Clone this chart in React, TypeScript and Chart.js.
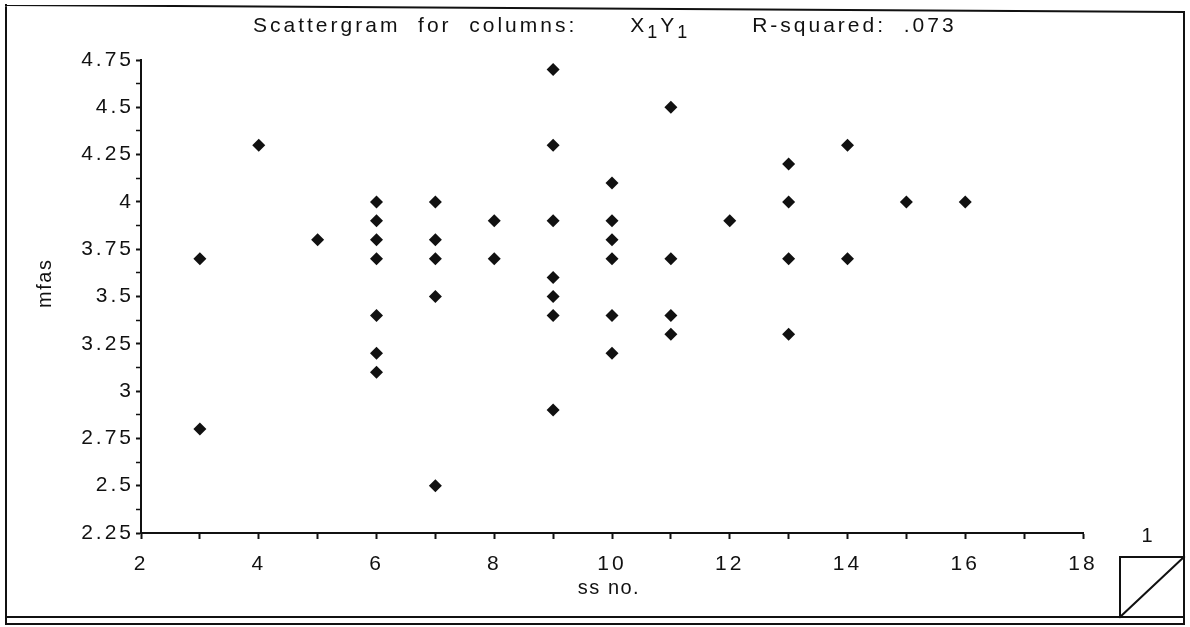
import React, { useEffect, useRef } from 'react';
import { Chart, registerables } from 'chart.js';

Chart.register(...registerables);

// ---- data ----
const ssNo = [
  3, 3, 4, 5,
  6, 6, 6, 6, 6, 6, 6,
  7, 7, 7, 7, 7,
  8, 8,
  9, 9, 9, 9, 9, 9, 9,
  10, 10, 10, 10, 10, 10,
  11, 11, 11, 11,
  12,
  13, 13, 13, 13,
  14, 14,
  15, 16,
];
const mfas = [
  3.7, 2.8, 4.3, 3.8,
  4.0, 3.9, 3.8, 3.7, 3.4, 3.2, 3.1,
  4.0, 3.8, 3.7, 3.5, 2.5,
  3.9, 3.7,
  4.7, 4.3, 3.9, 3.6, 3.5, 3.4, 2.9,
  4.1, 3.9, 3.8, 3.7, 3.4, 3.2,
  4.5, 3.7, 3.4, 3.3,
  3.9,
  4.2, 4.0, 3.7, 3.3,
  4.3, 3.7,
  4.0, 4.0,
];
const xMin = 2;
const xMax = 18;
const xStep = 1;
const yMin = 2.25;
const yMax = 4.75;
const yStep = 0.125;
const xTitle = 'ss no.';
const yTitle = 'mfas';
const titleParts = [
  { text: 'Scattergram  for  columns:      X', sub: false },
  { text: '1', sub: true },
  { text: 'Y', sub: false },
  { text: '1', sub: true },
  { text: '       R-squared:  .073', sub: false },
];
const pageLabel = '1';

const INK = '#111';
const FONT = "'Liberation Sans', Arial, Helvetica, sans-serif";

const isMajorY = (v: number) => Math.abs(v * 4 - Math.round(v * 4)) < 1e-6;

const framePlugin = {
  id: 'frameAndTitle',
  beforeDraw(chart: any) {
    const ctx = chart.ctx;
    ctx.save();
    ctx.fillStyle = '#fff';
    ctx.fillRect(0, 0, chart.width, chart.height);
    ctx.restore();
    (ctx as any).letterSpacing = '3px';
  },
  afterDraw(chart: any) {
    const ctx = chart.ctx;
    const area = chart.chartArea;
    ctx.save();
    ctx.strokeStyle = INK;
    ctx.lineWidth = 2;
    ctx.lineCap = 'square';
    // outer frame
    ctx.beginPath();
    ctx.moveTo(6, 5);
    ctx.lineTo(1184, 12);
    ctx.moveTo(6, 5);
    ctx.lineTo(6, 624);
    ctx.moveTo(1184, 12);
    ctx.lineTo(1184, 624);
    ctx.moveTo(6, 617);
    ctx.lineTo(1120, 617);
    ctx.moveTo(6, 624);
    ctx.lineTo(1184, 624);
    ctx.stroke();
    // page curl box
    ctx.beginPath();
    ctx.rect(1120, 557, 64, 60);
    ctx.moveTo(1120, 617);
    ctx.lineTo(1184, 557);
    ctx.stroke();

    // title
    ctx.fillStyle = INK;
    ctx.textBaseline = 'alphabetic';
    ctx.textAlign = 'left';
    (ctx as any).letterSpacing = '3px';
    let x = 253;
    for (const p of titleParts) {
      ctx.font = p.sub ? `18px ${FONT}` : `21px ${FONT}`;
      ctx.fillText(p.text, x, p.sub ? 38 : 32);
      x += ctx.measureText(p.text).width;
    }

    // axis titles
    (ctx as any).letterSpacing = '1.5px';
    ctx.font = `20px ${FONT}`;
    ctx.textAlign = 'center';
    ctx.textBaseline = 'middle';
    ctx.fillText(xTitle, (area.left + area.right) / 2 - 3, 588);
    ctx.save();
    ctx.translate(45, area.top + (area.bottom - area.top) * 0.472);
    ctx.rotate(-Math.PI / 2);
    ctx.fillText(yTitle, 0, 0);
    ctx.restore();

    // page number
    (ctx as any).letterSpacing = '0px';
    ctx.font = `20px ${FONT}`;
    ctx.textAlign = 'center';
    ctx.textBaseline = 'middle';
    ctx.fillText(pageLabel, 1147, 536);
    ctx.restore();
  },
};

export default function App() {
  const ref = useRef<HTMLCanvasElement | null>(null);

  useEffect(() => {
    if (!ref.current) return;
    Chart.defaults.font.family = FONT;
    Chart.defaults.color = INK;
    const chart = new Chart(ref.current, {
      type: 'scatter',
      data: {
        datasets: [
          {
            data: ssNo.map((x, i) => ({ x, y: mfas[i] })),
            pointStyle: 'rectRot',
            pointRadius: 6.5,
            pointHoverRadius: 6.5,
            backgroundColor: INK,
            borderWidth: 0,
          },
        ],
      },
      options: {
        responsive: false,
        animation: false,
        events: [],
        layout: { padding: { top: 60, right: 107, bottom: 0, left: 0 } },
        plugins: {
          legend: { display: false },
          tooltip: { enabled: false },
          title: { display: false },
        },
        scales: {
          x: {
            type: 'linear',
            min: xMin,
            max: xMax,
            ticks: {
              stepSize: xStep,
              autoSkip: false,
              maxRotation: 0,
              color: INK,
              font: { size: 21 },
              padding: 13,
              callback: (v: any) => (Number(v) % 2 === 0 ? String(v) : ''),
            },
            grid: {
              drawOnChartArea: false,
              drawTicks: true,
              tickLength: 6,
              tickColor: INK,
              tickWidth: 2,
            },
            border: { display: true, color: INK, width: 2 },
            title: { display: false },
            afterFit: (s: any) => {
              s.height = 94;
            },
          },
          y: {
            type: 'linear',
            min: yMin,
            max: yMax,
            ticks: {
              stepSize: yStep,
              autoSkip: false,
              color: INK,
              font: { size: 21 },
              padding: 2,
              callback: (v: any) =>
                isMajorY(Number(v)) ? String(Number(Number(v).toFixed(2))) : '',
            },
            grid: {
              drawOnChartArea: false,
              drawTicks: true,
              tickLength: 5,
              tickColor: INK,
              tickWidth: (c: any) => (c.tick && isMajorY(c.tick.value) ? 2 : 1.5),
            },
            border: { display: true, color: INK, width: 2 },
            title: { display: false },
            afterFit: (s: any) => {
              s.width = 141;
            },
          },
        },
      },
      plugins: [framePlugin],
    });
    return () => chart.destroy();
  }, []);

  return (
    <div style={{ position: 'absolute', left: 0, top: 0, width: 1190, height: 627, background: '#fff' }}>
      <canvas ref={ref} width={1190} height={627} style={{ display: 'block' }} />
    </div>
  );
}
